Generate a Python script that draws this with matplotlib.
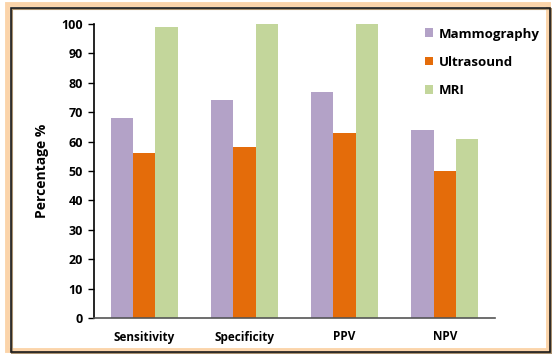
import matplotlib
matplotlib.use("Agg")
import matplotlib.pyplot as plt
import numpy as np
from matplotlib.patches import Rectangle

categories = ["Sensitivity", "Specificity", "PPV", "NPV"]
series_names = ["Mammography", "Ultrasound", "MRI"]
mammography = [68, 74, 77, 64]
ultrasound = [56, 58, 63, 50]
mri = [99, 100, 100, 61]

COLORS = ["#B3A2C7", "#E46C0A", "#C3D69B"]

plt.rcParams["font.family"] = ["Open Sans", "DejaVu Sans"]

W, H = 552, 354
fig = plt.figure(figsize=(W / 100, H / 100), dpi=100)


def frame(x0, y0, x1, y1, ec, lw, z):
    # pixel coords measured from the top-left corner
    fig.add_artist(Rectangle((x0 / W, 1 - y1 / H), (x1 - x0) / W, (y1 - y0) / H,
                             transform=fig.transFigure, facecolor="none",
                             edgecolor=ec, linewidth=lw, zorder=z))


frame(7, 4, 548, 350, "#FBD4AA", 3.5, 0)
frame(12, 9, 551, 353, "#A89070", 1.5, 0.5)
frame(10.5, 7.5, 549.5, 351.5, "#1A1A1A", 1.2, 1)

ax = fig.add_axes([94 / W, (H - 318) / H, 401 / W, 294 / H])
ax.set_zorder(2)
ax.patch.set_alpha(0)

x = np.arange(len(categories))
bw = 0.222
for i, (vals, name) in enumerate(zip([mammography, ultrasound, mri], series_names)):
    ax.bar(x + (i - 1) * bw, vals, width=bw, color=COLORS[i], label=name)

ax.set_xlim(-0.5, len(categories) - 0.5)
ax.set_ylim(0, 100)
ax.set_yticks(range(0, 101, 10))
ax.set_xticks(x)
ax.set_xticklabels(categories, fontsize=8.5, fontweight="bold")
ax.tick_params(axis="y", labelsize=9, length=4, width=1, pad=4)
for t in ax.get_yticklabels():
    t.set_fontweight("bold")
ax.tick_params(axis="x", length=0, pad=9)
ax.spines["top"].set_visible(False)
ax.spines["right"].set_visible(False)
ax.spines["left"].set_linewidth(1.2)
ax.spines["bottom"].set_color("#555555")
ax.spines["bottom"].set_linewidth(1.2)
ax.set_ylabel("Percentage %", fontsize=10, fontweight="bold", labelpad=9)

leg = ax.legend(loc="upper left", bbox_to_anchor=(1 - 78 / 401, 1.015), frameon=False,
                prop={"size": 9.5, "weight": "bold"}, handlelength=0.65, handleheight=0.65,
                handletextpad=0.4, labelspacing=1.15, borderaxespad=0.2)

fig.savefig("out.png", dpi=100)
